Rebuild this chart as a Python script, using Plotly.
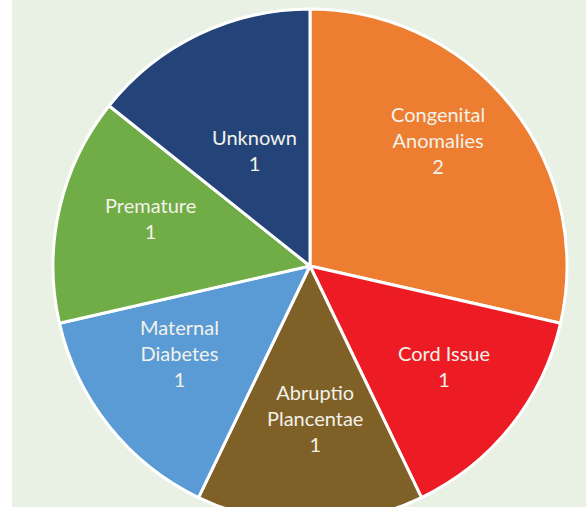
import math
import plotly.graph_objects as go

categories = ["Congenital<br>Anomalies", "Cord Issue", "Abruptio<br>Plancentae",
              "Maternal<br>Diabetes", "Premature", "Unknown"]
counts = [2, 1, 1, 1, 1, 1]

# style
slice_colors = ["#ED7D31", "#ED1C24", "#7F6027", "#5B9BD5", "#70AD47", "#244479"]
label_radius_frac = [0.70, 0.65, 0.59, 0.61, 0.65, 0.50]
label_angle_nudge = [-6, -2, -2, 5, 4, 0]

W, H = 586, 532
CX, CY, R = 310, 266, 257

fig = go.Figure(go.Pie(
    labels=categories,
    values=counts,
    sort=False,
    direction="clockwise",
    rotation=0,
    marker=dict(colors=slice_colors, line=dict(color="white", width=3)),
    textinfo="none",
    hoverinfo="skip",
    showlegend=False,
    domain=dict(x=[(CX - R) / W, (CX + R) / W], y=[1 - (CY + R) / H, 1 - (CY - R) / H]),
))

# labels placed at slice mid-angles computed from the data
total = sum(counts)
annotations = []
cum = 0
for lab, v, f, nud in zip(categories, counts, label_radius_frac, label_angle_nudge):
    mid = (cum + v / 2) / total * 360 + nud
    cum += v
    px = CX + f * R * math.sin(math.radians(mid))
    py = CY - f * R * math.cos(math.radians(mid))
    annotations.append(dict(
        x=px / W, y=1 - py / H, xref="paper", yref="paper",
        text=f"{lab}<br>{v}", showarrow=False,
        xanchor="center", yanchor="middle", align="center",
        font=dict(family="Lato, Open Sans, sans-serif", size=20, color="#F2F2EA"),
    ))

fig.update_layout(
    width=W, height=H,
    margin=dict(l=0, r=0, t=0, b=0),
    paper_bgcolor="white",
    shapes=[dict(type="rect", xref="paper", yref="paper", x0=12 / W, x1=1, y0=0, y1=1,
                 fillcolor="#E8F1E4", line=dict(width=0), layer="below")],
    annotations=annotations,
)

fig.write_html(
    "out.html",
    config={"displayModeBar": False},
    post_script="document.body.style.margin='0';document.body.style.overflow='hidden';",
)
